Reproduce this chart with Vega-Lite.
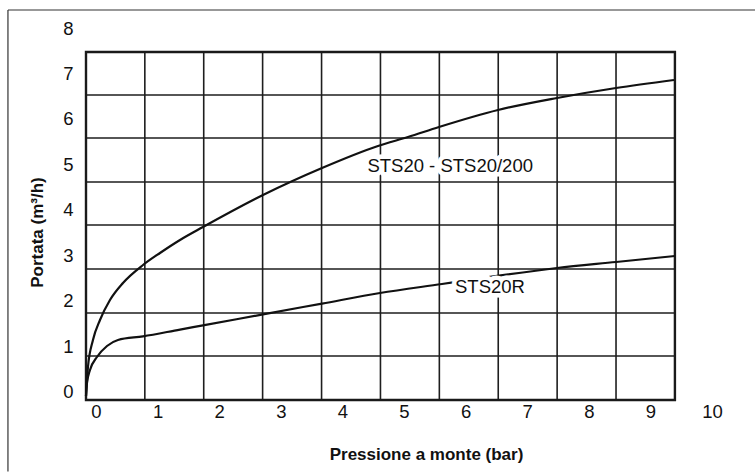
{
  "$schema": "https://vega.github.io/schema/vega-lite/v6.json",
  "width": 626,
  "height": 372,
  "autosize": "none",
  "padding": {"left": 86, "top": 28, "right": 43, "bottom": 72},
  "background": "white",
  "config": {
    "view": {"stroke": null},
    "font": "Liberation Sans",
    "axis": {
      "domain": false,
      "ticks": false,
      "grid": false,
      "labelFont": "Liberation Sans",
      "labelFontSize": 18.5,
      "labelColor": "#111",
      "labelFlush": false,
      "labelOverlap": false,
      "labelBound": false,
      "titleFont": "Liberation Sans",
      "titleFontSize": 17,
      "titleFontWeight": "bold",
      "titleColor": "#111"
    }
  },
  "datasets": {
    "curves": [
      {"p": -0.162, "q": -0.088, "serie": "STS20 - STS20/200"},
      {"p": -0.130, "q": 0.549, "serie": "STS20 - STS20/200"},
      {"p": -0.049, "q": 1.143, "serie": "STS20 - STS20/200"},
      {"p": 0.065, "q": 1.582, "serie": "STS20 - STS20/200"},
      {"p": 0.227, "q": 2.022, "serie": "STS20 - STS20/200"},
      {"p": 0.438, "q": 2.396, "serie": "STS20 - STS20/200"},
      {"p": 0.763, "q": 2.791, "serie": "STS20 - STS20/200"},
      {"p": 1.039, "q": 3.055, "serie": "STS20 - STS20/200"},
      {"p": 1.364, "q": 3.341, "serie": "STS20 - STS20/200"},
      {"p": 1.737, "q": 3.626, "serie": "STS20 - STS20/200"},
      {"p": 2.711, "q": 4.330, "serie": "STS20 - STS20/200"},
      {"p": 3.669, "q": 4.923, "serie": "STS20 - STS20/200"},
      {"p": 4.578, "q": 5.407, "serie": "STS20 - STS20/200"},
      {"p": 5.065, "q": 5.604, "serie": "STS20 - STS20/200"},
      {"p": 5.568, "q": 5.824, "serie": "STS20 - STS20/200"},
      {"p": 6.526, "q": 6.198, "serie": "STS20 - STS20/200"},
      {"p": 7.484, "q": 6.462, "serie": "STS20 - STS20/200"},
      {"p": 8.442, "q": 6.681, "serie": "STS20 - STS20/200"},
      {"p": 9.383, "q": 6.857, "serie": "STS20 - STS20/200"},
      {"p": -0.162, "q": -0.088, "serie": "STS20R"},
      {"p": -0.146, "q": 0.198, "serie": "STS20R"},
      {"p": -0.097, "q": 0.484, "serie": "STS20R"},
      {"p": 0.016, "q": 0.769, "serie": "STS20R"},
      {"p": 0.179, "q": 1.011, "serie": "STS20R"},
      {"p": 0.357, "q": 1.143, "serie": "STS20R"},
      {"p": 0.763, "q": 1.222, "serie": "STS20R"},
      {"p": 1.364, "q": 1.372, "serie": "STS20R"},
      {"p": 1.737, "q": 1.464, "serie": "STS20R"},
      {"p": 2.711, "q": 1.706, "serie": "STS20R"},
      {"p": 3.669, "q": 1.943, "serie": "STS20R"},
      {"p": 4.610, "q": 2.176, "serie": "STS20R"},
      {"p": 5.617, "q": 2.374, "serie": "STS20R"},
      {"p": 6.153, "q": 2.480, "serie": "STS20R"},
      {"p": 7.484, "q": 2.725, "serie": "STS20R"},
      {"p": 8.442, "q": 2.857, "serie": "STS20R"},
      {"p": 9.399, "q": 2.989, "serie": "STS20R"}
    ],
    "vgrid": [
      {"p": -0.162}, {"p": 0.793}, {"p": 1.749}, {"p": 2.705}, {"p": 3.662},
      {"p": 4.618}, {"p": 5.574}, {"p": 6.530}, {"p": 7.486}, {"p": 8.442}, {"p": 9.398}
    ],
    "hgrid": [
      {"q": -0.176}, {"q": 0.791}, {"q": 1.736}, {"q": 2.703}, {"q": 3.670},
      {"q": 4.615}, {"q": 5.582}, {"q": 6.527}, {"q": 7.473}
    ],
    "labels": [
      {"p": 5.75, "q": 4.835, "testo": "STS20 - STS20/200"},
      {"p": 6.396, "q": 2.176, "testo": "STS20R"}
    ]
  },
  "encoding": {
    "x": {
      "type": "quantitative",
      "scale": {"domain": [-0.162, 10], "nice": false, "zero": false},
      "axis": {
        "values": [0, 1, 2, 3, 4, 5, 6, 7, 8, 9, 10],
        "title": "Pressione a monte (bar)",
        "labelPadding": 2,
        "titleX": 340,
        "titleY": 59,
        "titleBaseline": "alphabetic"
      }
    },
    "y": {
      "type": "quantitative",
      "scale": {"domain": [-0.176, 8], "nice": false, "zero": false},
      "axis": {
        "values": [0, 1, 2, 3, 4, 5, 6, 7, 8],
        "title": "Portata (m³/h)",
        "labelPadding": 13,
        "titleX": -44,
        "titleY": 204,
        "titleBaseline": "alphabetic",
        "titleAngle": -90
      }
    }
  },
  "layer": [
    {
      "data": {"name": "vgrid"},
      "mark": {"type": "rule", "color": "#1e1e1e", "strokeWidth": 1.6},
      "encoding": {
        "x": {"field": "p"},
        "y": {"datum": -0.176},
        "y2": {"datum": 7.473}
      }
    },
    {
      "data": {"name": "hgrid"},
      "mark": {"type": "rule", "color": "#1e1e1e", "strokeWidth": 1.6},
      "encoding": {
        "y": {"field": "q"},
        "x": {"datum": -0.162},
        "x2": {"datum": 9.398}
      }
    },
    {
      "data": {"values": [{}]},
      "mark": {"type": "rect", "filled": false, "stroke": "#1a1a1a", "strokeWidth": 2.4},
      "encoding": {
        "x": {"datum": -0.162},
        "x2": {"datum": 9.398},
        "y": {"datum": -0.176},
        "y2": {"datum": 7.473}
      }
    },
    {
      "data": {"name": "curves"},
      "mark": {"type": "line", "color": "#111", "strokeWidth": 2.2, "interpolate": "monotone"},
      "encoding": {
        "x": {"field": "p"},
        "y": {"field": "q"},
        "detail": {"field": "serie"}
      }
    },
    {
      "data": {"name": "labels"},
      "mark": {"type": "text", "font": "Liberation Sans", "fontSize": 18.5, "align": "center", "baseline": "alphabetic", "stroke": "white", "strokeWidth": 9, "strokeJoin": "round", "fill": "white"},
      "encoding": {
        "x": {"field": "p"},
        "y": {"field": "q"},
        "text": {"field": "testo"}
      }
    },
    {
      "data": {"name": "labels"},
      "mark": {"type": "text", "font": "Liberation Sans", "fontSize": 18.5, "align": "center", "baseline": "alphabetic", "fill": "#111"},
      "encoding": {
        "x": {"field": "p"},
        "y": {"field": "q"},
        "text": {"field": "testo"}
      }
    },
    {
      "data": {"values": [{}]},
      "mark": {"type": "rule", "color": "#333", "strokeWidth": 1.2},
      "encoding": {
        "x": {"datum": -1.429},
        "x2": {"datum": 10.7},
        "y": {"datum": 8.396}
      }
    },
    {
      "data": {"values": [{}]},
      "mark": {"type": "rule", "color": "#333", "strokeWidth": 1.2},
      "encoding": {
        "x": {"datum": -1.429},
        "y": {"datum": 8.396},
        "y2": {"datum": -1.75}
      }
    }
  ]
}
